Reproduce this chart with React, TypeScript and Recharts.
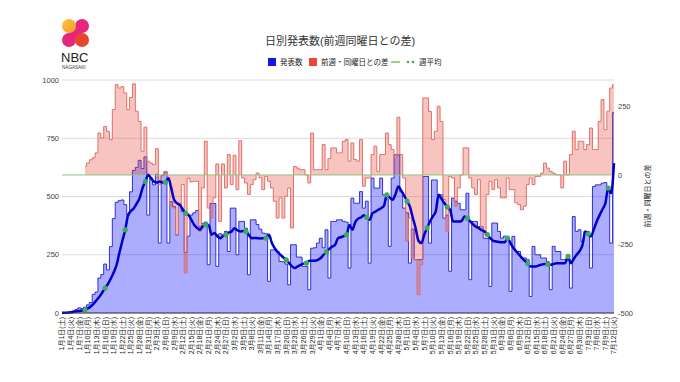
import React from "react";
import {
  ComposedChart,
  Area,
  Line,
  XAxis,
  YAxis,
  CartesianGrid,
  ReferenceLine,
} from "recharts";

const FONT = "'Liberation Sans', 'Noto Sans CJK JP', sans-serif";

// 2022/1/1 (土) 〜 7/12 (火)
const monthLengths = [31, 28, 31, 30, 31, 30, 31];
const weekdayNames = ["土", "日", "月", "火", "水", "木", "金"];
const lastDay = { month: 7, day: 12 };

// 発表数 (one row = one week, Sat..Fri)
const dailyCount = [
  0, 2, 1, 3, 8, 15, 22,
  20, 25, 35, 45, 80, 90, 150,
  165, 210, 185, 285, 405, 475, 482,
  485, 465, 420, 520, 612, 625, 655,
  620, 670, 420, 580, 550, 595, 300,
  590, 607, 300, 478, 457, 335, 464,
  435, 260, 330, 420, 430, 440, 370,
  385, 390, 207, 470, 470, 200, 340,
  336, 350, 264, 450, 450, 250, 393,
  393, 364, 164, 400, 400, 380, 360,
  343, 340, 136, 271, 271, 265, 221,
  220, 210, 121, 293, 293, 240, 240,
  200, 200, 100, 278, 280, 300, 321,
  280, 357, 150, 393, 393, 400, 400,
  393, 390, 193, 493, 471, 471, 521,
  450, 480, 214, 579, 536, 536, 579,
  507, 490, 286, 579, 679, 679, 520,
  450, 430, 214, 360, 229, 229, 229,
  586, 586, 300, 571, 571, 507, 507,
  407, 420, 179, 493, 480, 471, 443,
  443, 514, 143, 393, 393, 371, 371,
  321, 320, 114, 386, 386, 350, 321,
  330, 321, 93, 329, 264, 264, 236,
  236, 229, 71, 286, 250, 250, 236,
  236, 220, 100, 286, 264, 264, 229,
  229, 229, 107, 414, 350, 357, 307,
  350, 350, 193, 543, 550, 550, 557,
  560, 520, 300, 860,
];

// 前週・同曜日との差
const weekDiff = [
  null, null, null, null, null, null, null,
  null, 31, 43, 55, 62, 80, 152,
  134, 176, 158, 128, 237, 327, 315,
  320, 297, 237, 280, 330, 231, 194,
  86, 173, 50, 43, 37, 95, -35,
  0, 13, -10, -113, -120, -216, -110,
  -35, -355, -12, -25, -23, -23, -204,
  -47, 122, -120, -156, -83, 40, -168,
  40, -47, 74, -35, 71, -53, 124,
  -11, -29, -71, -35, -17, 7, -10,
  -53, -5, -23, -47, -95, -156, -83,
  -156, -77, -47, -192, 31, 25, 19,
  19, 0, -29, 152, 19, 19, 19,
  110, 19, 60, 98, 98, 80, 80,
  122, 128, 50, 116, 56, 50, 128,
  -41, -11, -11, 74, 104, 13, 74,
  74, 152, 110, 92, 62, 209, 74,
  -11, -240, -156, -300, -307, -434, -325,
  279, 279, 230, 128, 158, 249, 194,
  -89, -204, -5, -11, -113, -47, 0,
  98, 98, -11, -47, -71, -17, -186,
  -216, -71, -23, -53, -17, -47, -83,
  -83, -11, -53, -53, -101, -107, -126,
  -113, -35, -11, -35, -5, -5, 7,
  43, 25, 13, 7, 1, 1, -47,
  50, 0, 74, 158, 92, 122, 122,
  92, 110, 170, 92, 92, 194, 273,
  164, 231, 315, 327,
];

// 週平均
const weeklyAvg = [
  1, 1, 2, 3, 5, 7, 9,
  11, 14, 20, 28, 40, 55, 70,
  88, 107, 125, 148, 175, 207, 260,
  310, 357, 421, 438, 450, 470, 493,
  536, 564, 593, 578, 564, 560, 564,
  560, 561, 578, 536, 486, 471, 464,
  445, 428, 421, 400, 378, 365, 357,
  372, 378, 378, 336, 343, 330, 321,
  330, 336, 345, 350, 364, 355, 350,
  352, 350, 335, 321, 322, 321, 320,
  321, 321, 336, 300, 278, 262, 250,
  238, 228, 214, 200, 193, 200, 207,
  212, 214, 224, 224, 224, 228, 236,
  250, 262, 275, 285, 293, 321, 325,
  330, 336, 378, 357, 390, 405, 410,
  419, 410, 400, 428, 435, 443, 450,
  461, 507, 495, 486, 510, 543, 525,
  504, 480, 457, 410, 364, 310, 300,
  336, 365, 393, 415, 436, 507, 490,
  471, 455, 443, 393, 393, 393, 395,
  414, 407, 393, 380, 370, 364, 355,
  350, 336, 320, 310, 307, 305, 304,
  304, 321, 300, 279, 265, 250, 237,
  224, 212, 200, 200, 200, 205, 208,
  210, 209, 207, 210, 214, 214, 214,
  214, 243, 214, 232, 250, 265, 290,
  350, 340, 329, 360, 393, 420, 445,
  471, 536, 514, 643,
];

const leftTicks = [0, 250, 500, 750, 1000];
const rightTicks = [-500, -250, 0, 250];

const dateLabels: string[] = [];
for (let m = 1, w = 0; m <= lastDay.month; m++) {
  const end = m === lastDay.month ? lastDay.day : monthLengths[m - 1];
  for (let d = 1; d <= end; d++, w++) {
    dateLabels.push(`${m}月${d}日(${weekdayNames[w % 7]})`);
  }
}

const data = dateLabels.map((label, i) => ({
  label,
  count: dailyCount[i],
  diff: weekDiff[i],
  avg: weeklyAvg[i],
}));

const DateTick = (props: any) => {
  const { x, y, payload } = props;
  return (
    <text
      x={x}
      y={y}
      transform={`rotate(-90 ${x} ${y})`}
      textAnchor="end"
      dy="0.35em"
      fontSize={7}
      fontFamily={FONT}
      fill="#222"
    >
      {payload.value}
    </text>
  );
};

const renderDot = (props: any) => {
  const { cx, cy, index } = props;
  if (index < 8 || index % 7 !== 1 || cy == null) return <g key={`d${index}`} />;
  return <circle key={`d${index}`} cx={cx} cy={cy} r={2.6} fill="#3cab5a" />;
};

const Logo = () => (
  <g>
    <defs>
      <linearGradient id="nbcWarm" x1="0" y1="0" x2="1" y2="1">
        <stop offset="0%" stopColor="#fbc531" />
        <stop offset="100%" stopColor="#f39c33" />
      </linearGradient>
    </defs>
    <circle cx={82} cy={26} r={7} fill="#e5267c" />
    <circle cx={69} cy={40} r={7} fill="#e5267c" />
    <rect x={69} y={26} width={13} height={14} fill="#e5267c" />
    <circle cx={82} cy={40} r={7} fill="#e8452f" />
    <circle cx={69} cy={26} r={7} fill="url(#nbcWarm)" />
    <text x={61} y={62} fontSize={13} fontFamily={FONT} fill="#222">
      NBC
    </text>
    <text x={62} y={69} fontSize={4.6} fontFamily={FONT} fill="#333">
      NAGASAKI
    </text>
  </g>
);

const Decorations = () => (
  <svg
    width={680}
    height={382}
    style={{ position: "absolute", left: 0, top: 0, pointerEvents: "none" }}
  >
    <Logo />
    <text x={340} y={45} textAnchor="middle" fontSize={11} fontFamily={FONT} fill="#333">
      日別発表数(前週同曜日との差)
    </text>
    <g fontSize={7.5} fontFamily={FONT} fill="#222">
      <rect x={268} y={58} width={8} height={8} fill="#1515f0" />
      <text x={280} y={65}>発表数</text>
      <rect x={309} y={58} width={8} height={8} fill="#e8473c" />
      <text x={321} y={65}>前週・同曜日との差</text>
      <line x1={391} x2={400} y1={62} y2={62} stroke="#76c26c" strokeWidth={1.5} />
      <circle cx={408} cy={62} r={1.3} fill="#3cab5a" />
      <circle cx={413} cy={62} r={1.3} fill="#3cab5a" />
      <text x={419} y={65}>週平均</text>
    </g>
    <text
      transform="translate(650,196) rotate(-90)"
      textAnchor="middle"
      fontSize={7}
      fontFamily={FONT}
      fill="#222"
    >
      前週・同曜日との差
    </text>
  </svg>
);

export default function App() {
  return (
    <div
      style={{
        position: "absolute",
        left: 0,
        top: 0,
        width: 680,
        height: 382,
        background: "#fff",
      }}
    >
      <ComposedChart
        width={680}
        height={382}
        data={data}
        margin={{ top: 80, right: 0, bottom: 0, left: 0 }}
      >
        <CartesianGrid yAxisId="left" vertical={false} stroke="#dcdcdc" />
        <XAxis
          dataKey="label"
          interval={2}
          tick={<DateTick />}
          tickLine={false}
          tickSize={0}
          tickMargin={4}
          axisLine={{ stroke: "#333" }}
          height={69}
        />
        <YAxis
          yAxisId="left"
          domain={[0, 1000]}
          ticks={leftTicks}
          width={62}
          axisLine={false}
          tickLine={false}
          tickSize={0}
          tickMargin={3}
          tick={{ fontSize: 7.5, fill: "#444", fontFamily: FONT }}
        />
        <YAxis
          yAxisId="right"
          orientation="right"
          domain={[-500, 344]}
          ticks={rightTicks}
          width={66}
          axisLine={false}
          tickLine={false}
          tickSize={0}
          tickMargin={4}
          tick={{ fontSize: 7.5, fill: "#444", fontFamily: FONT }}
        />
        <Area
          yAxisId="left"
          type="step"
          dataKey="count"
          fill="#0000ff"
          fillOpacity={0.32}
          stroke="#3030d0"
          strokeWidth={1}
          isAnimationActive={false}
        />
        <Area
          yAxisId="right"
          type="step"
          dataKey="diff"
          fill="#e8473c"
          fillOpacity={0.32}
          stroke="#e07068"
          strokeWidth={1}
          isAnimationActive={false}
        />
        <ReferenceLine yAxisId="right" y={0} stroke="#8cc47e" strokeWidth={1} />
        <Line
          yAxisId="left"
          type="monotone"
          dataKey="avg"
          stroke="#0000cc"
          strokeWidth={2.5}
          dot={renderDot}
          activeDot={false}
          isAnimationActive={false}
        />
      </ComposedChart>
      <Decorations />
    </div>
  );
}
